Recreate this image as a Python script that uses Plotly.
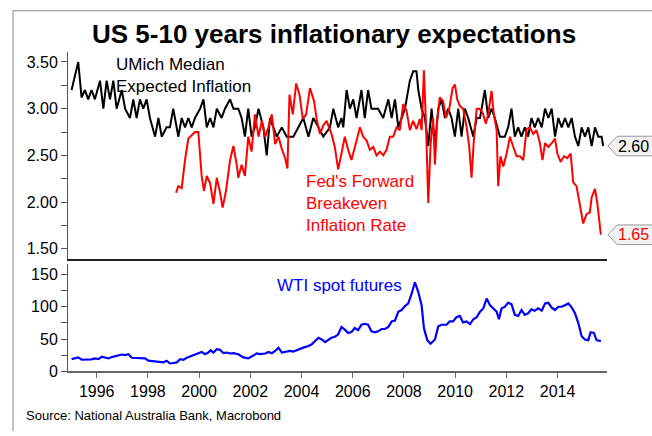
import plotly.graph_objects as go

# ---------------- data (decimal years) ----------------
umich_x = [1995.02, 1995.28, 1995.41, 1995.54, 1995.67, 1995.80, 1995.93, 1996.13, 1996.26, 1996.39,
           1996.52, 1996.65, 1996.78, 1996.98, 1997.11, 1997.30, 1997.43, 1997.56, 1997.69, 1997.82,
           1997.95, 1998.08, 1998.28, 1998.41, 1998.54, 1998.73, 1998.86, 1998.99, 1999.19, 1999.32,
           1999.45, 1999.58, 1999.71, 1999.84, 2000.04, 2000.17, 2000.30, 2000.43, 2000.56, 2000.69,
           2000.88, 2001.01, 2001.21, 2001.34, 2001.53, 2001.66, 2001.79, 2001.92, 2002.05, 2002.18,
           2002.32, 2002.51, 2002.64, 2002.77, 2002.90, 2003.03, 2003.23, 2003.42, 2003.68, 2003.88,
           2004.07, 2004.27, 2004.46, 2004.66, 2004.85, 2005.11, 2005.24, 2005.43, 2005.56, 2005.63,
           2005.76, 2005.89, 2006.02, 2006.15, 2006.34, 2006.47, 2006.60, 2006.73, 2006.86, 2006.99,
           2007.19, 2007.39, 2007.52, 2007.65, 2007.78, 2007.91, 2008.04, 2008.23, 2008.36, 2008.49,
           2008.56, 2008.69, 2008.82, 2008.95, 2009.08, 2009.21, 2009.34, 2009.47, 2009.60, 2009.73,
           2009.86, 2009.99, 2010.12, 2010.25, 2010.38, 2010.51, 2010.71, 2010.84, 2010.97, 2011.16,
           2011.29, 2011.42, 2011.55, 2011.75, 2011.94, 2012.07, 2012.20, 2012.33, 2012.46, 2012.59,
           2012.72, 2012.85, 2012.98, 2013.11, 2013.24, 2013.38, 2013.51, 2013.64, 2013.77, 2013.90,
           2014.03, 2014.16, 2014.29, 2014.42, 2014.55, 2014.68, 2014.81, 2014.94, 2015.07, 2015.20,
           2015.33, 2015.46, 2015.59, 2015.72, 2015.78]
umich_y = [3.20, 3.50, 3.12, 3.20, 3.10, 3.20, 3.10, 3.30, 3.00, 3.30,
           3.10, 3.30, 3.00, 3.20, 3.00, 2.90, 3.10, 2.90, 3.10, 3.00,
           3.10, 2.90, 2.70, 2.90, 2.70, 2.80, 2.80, 3.00, 2.70, 2.90,
           2.80, 2.90, 2.80, 2.90, 3.00, 3.10, 2.80, 2.90, 2.80, 3.00,
           2.90, 3.00, 3.10, 3.00, 3.00, 2.90, 2.70, 3.00, 2.70, 2.80,
           3.00, 2.80, 2.50, 2.90, 2.80, 2.70, 2.80, 2.70, 2.70, 2.80,
           2.90, 2.70, 2.90, 2.80, 2.70, 2.80, 3.00, 2.80, 2.90, 2.80,
           3.20, 3.00, 3.10, 2.90, 3.20, 2.90, 3.20, 3.00, 3.00, 3.00,
           2.90, 3.10, 2.90, 3.10, 2.80, 2.90, 3.00, 3.30, 3.40, 3.40,
           3.20, 3.00, 2.90, 2.60, 3.00, 2.60, 3.00, 3.10, 2.90, 3.00,
           2.90, 2.70, 3.00, 2.70, 3.00, 2.90, 2.70, 2.90, 2.90, 3.20,
           2.90, 3.00, 2.90, 2.70, 2.70, 2.80, 3.00, 2.70, 2.80, 2.70,
           2.80, 2.70, 2.90, 2.80, 2.90, 2.80, 3.00, 2.90, 3.00, 2.70,
           2.90, 2.80, 2.90, 2.80, 2.90, 2.70, 2.60, 2.80, 2.70, 2.80,
           2.60, 2.80, 2.70, 2.70, 2.60]

fed_x = [1999.10, 1999.19, 1999.32, 1999.45, 1999.58, 1999.71, 1999.84, 1999.97, 2000.10, 2000.19,
         2000.30, 2000.43, 2000.56, 2000.69, 2000.82, 2000.92, 2001.05, 2001.21, 2001.34, 2001.47,
         2001.53, 2001.66, 2001.79, 2001.92, 2002.05, 2002.18, 2002.32, 2002.45, 2002.58, 2002.71,
         2002.84, 2002.97, 2003.10, 2003.23, 2003.36, 2003.45, 2003.53, 2003.66, 2003.79, 2003.92,
         2004.05, 2004.18, 2004.33, 2004.49, 2004.59, 2004.72, 2004.85, 2004.98, 2005.17, 2005.30,
         2005.43, 2005.56, 2005.69, 2005.82, 2005.95, 2006.15, 2006.28, 2006.41, 2006.54, 2006.67,
         2006.80, 2006.93, 2007.06, 2007.19, 2007.32, 2007.45, 2007.58, 2007.71, 2007.84, 2007.97,
         2008.10, 2008.23, 2008.36, 2008.49, 2008.62, 2008.69, 2008.78, 2008.86, 2008.95, 2009.04,
         2009.14, 2009.21, 2009.30, 2009.40, 2009.53, 2009.64, 2009.77, 2009.90, 2009.99, 2010.08,
         2010.18, 2010.31, 2010.45, 2010.55, 2010.64, 2010.73, 2010.84, 2010.94, 2011.07, 2011.20,
         2011.29, 2011.42, 2011.51, 2011.62, 2011.68, 2011.77, 2011.88, 2012.01, 2012.14, 2012.27,
         2012.40, 2012.53, 2012.66, 2012.79, 2012.92, 2013.05, 2013.18, 2013.31, 2013.41, 2013.51,
         2013.64, 2013.77, 2013.90, 2013.99, 2014.12, 2014.25, 2014.38, 2014.51, 2014.61, 2014.74,
         2014.87, 2015.00, 2015.13, 2015.26, 2015.33, 2015.46, 2015.55, 2015.69]
fed_y = [2.10, 2.17, 2.15, 2.45, 2.68, 2.72, 2.75, 2.75, 2.28, 2.12,
         2.28, 2.20, 1.98, 2.26, 2.10, 1.94, 2.12, 2.45, 2.60, 2.40,
         2.26, 2.40, 2.28, 2.70, 2.54, 2.94, 2.70, 2.87, 2.70, 2.80,
         2.94, 2.62, 2.70, 2.57, 2.47, 2.36, 3.15, 2.94, 3.27, 3.15,
         2.89, 2.94, 3.22, 3.08, 2.89, 2.73, 2.82, 2.87, 2.73, 2.59,
         2.35, 2.52, 2.70, 2.56, 2.45, 2.66, 2.80, 2.70, 2.66, 2.56,
         2.59, 2.50, 2.54, 2.50, 2.56, 2.70, 2.70, 2.80, 2.77, 3.05,
         2.98, 2.77, 2.87, 2.78, 2.89, 2.77, 3.41, 2.84, 1.99, 2.62,
         2.90, 2.40, 2.87, 3.12, 3.08, 2.90, 3.00, 3.22, 3.26, 3.10,
         3.03, 3.00, 2.80, 2.59, 2.26, 2.66, 3.00, 3.00, 2.96, 2.84,
         2.94, 3.19, 2.94, 2.77, 2.17, 2.49, 2.38, 2.52, 2.70, 2.59,
         2.49, 2.49, 2.45, 2.78, 2.80, 2.73, 2.77, 2.63, 2.45, 2.63,
         2.59, 2.63, 2.68, 2.52, 2.43, 2.49, 2.47, 2.52, 2.21, 2.17,
         1.98, 1.77, 1.87, 1.89, 2.05, 2.14, 1.99, 1.65]

wti_x = [1995.02, 1995.15, 1995.28, 1995.41, 1995.61, 1995.80, 1995.93, 1996.07, 1996.20, 1996.33,
         1996.46, 1996.59, 1996.72, 1996.85, 1996.98, 1997.11, 1997.24, 1997.37, 1997.50, 1997.63,
         1997.76, 1997.89, 1998.02, 1998.21, 1998.41, 1998.60, 1998.73, 1998.86, 1998.99, 1999.13,
         1999.26, 1999.39, 1999.52, 1999.71, 1999.91, 2000.10, 2000.23, 2000.36, 2000.45, 2000.56,
         2000.69, 2000.82, 2000.95, 2001.08, 2001.21, 2001.34, 2001.53, 2001.73, 2001.92, 2002.12,
         2002.25, 2002.38, 2002.58, 2002.71, 2002.84, 2002.97, 2003.10, 2003.23, 2003.36, 2003.55,
         2003.68, 2003.88, 2004.07, 2004.27, 2004.40, 2004.53, 2004.66, 2004.79, 2004.92, 2005.17,
         2005.30, 2005.43, 2005.56, 2005.69, 2005.82, 2005.95, 2006.08, 2006.21, 2006.34, 2006.47,
         2006.60, 2006.73, 2006.86, 2006.99, 2007.13, 2007.26, 2007.39, 2007.52, 2007.65, 2007.78,
         2007.91, 2008.04, 2008.17, 2008.30, 2008.43, 2008.56, 2008.69, 2008.78, 2008.91, 2009.04,
         2009.21, 2009.34, 2009.47, 2009.66, 2009.79, 2009.92, 2010.05, 2010.18, 2010.31, 2010.45,
         2010.58, 2010.71, 2010.84, 2010.97, 2011.10, 2011.23, 2011.36, 2011.49, 2011.62, 2011.71,
         2011.81, 2011.94, 2012.07, 2012.20, 2012.33, 2012.46, 2012.59, 2012.72, 2012.85, 2012.98,
         2013.11, 2013.24, 2013.38, 2013.51, 2013.64, 2013.77, 2013.90, 2014.03, 2014.16, 2014.29,
         2014.42, 2014.55, 2014.68, 2014.81, 2014.94, 2015.07, 2015.20, 2015.29, 2015.42, 2015.52,
         2015.69]
wti_y = [18.8, 19.8, 21.4, 17.8, 17.8, 18.3, 19.8, 18.8, 22.4, 20.8,
         19.8, 21.9, 22.9, 23.9, 25.9, 24.9, 26.4, 20.8, 20.8, 20.3,
         20.8, 19.8, 16.3, 15.8, 14.7, 13.7, 16.3, 12.2, 12.7, 13.7,
         18.8, 17.8, 20.8, 23.9, 25.9, 30.0, 26.4, 29.0, 32.5, 29.0,
         34.1, 33.1, 28.0, 29.0, 27.5, 28.0, 26.4, 21.4, 19.8, 23.9,
         27.5, 26.4, 27.5, 30.0, 28.0, 31.5, 36.6, 29.0, 30.5, 31.5,
         30.5, 34.1, 36.6, 39.2, 41.7, 46.8, 51.9, 49.3, 45.3, 51.9,
         53.4, 57.0, 68.7, 64.6, 59.5, 61.0, 67.1, 63.6, 72.2, 73.7,
         72.2, 62.0, 60.5, 62.0, 65.6, 65.6, 68.7, 77.3, 78.8, 92.5,
         95.1, 101.2, 105.3, 120.5, 138.3, 123.0, 102.7, 67.1, 48.3, 42.7,
         49.3, 69.7, 72.2, 72.2, 77.3, 77.3, 83.9, 85.9, 75.8, 77.3,
         73.2, 80.8, 83.9, 92.5, 97.6, 112.9, 102.7, 97.6, 92.5, 80.8,
         97.6, 100.2, 106.3, 104.3, 87.5, 85.9, 95.1, 87.5, 90.0, 96.1,
         94.1, 97.6, 94.1, 105.3, 106.3, 98.7, 95.1, 100.2, 100.2, 102.7,
         105.3, 99.2, 90.0, 74.8, 54.4, 49.3, 48.3, 60.5, 59.5, 48.3,
         46.8]

top_ticks = [1.5, 2.0, 2.5, 3.0, 3.5]
bottom_ticks = [0, 50, 100, 150]
year_ticks = [1996, 1998, 2000, 2002, 2004, 2006, 2008, 2010, 2012, 2014]

# ---------------- figure ----------------
W, H = 652, 436
FONT = "Arial, Liberation Sans, sans-serif"

fig = go.Figure()
fig.add_trace(go.Scatter(x=umich_x, y=umich_y, mode="lines", line=dict(color="black", width=2),
                         xaxis="x", yaxis="y", showlegend=False, hoverinfo="skip"))
fig.add_trace(go.Scatter(x=fed_x, y=fed_y, mode="lines", line=dict(color="#ff0000", width=2),
                         xaxis="x", yaxis="y", showlegend=False, hoverinfo="skip"))
fig.add_trace(go.Scatter(x=wti_x, y=wti_y, mode="lines", line=dict(color="#0000ff", width=2.2),
                         xaxis="x2", yaxis="y2", showlegend=False, hoverinfo="skip"))

xdom = [68 / W, 607 / W]
xrange = [1994.88, 2015.93]

fig.update_layout(
    width=W, height=H,
    margin=dict(l=0, r=0, t=0, b=0),
    paper_bgcolor="white", plot_bgcolor="white",
    font=dict(family=FONT, size=16, color="black"),
    xaxis=dict(domain=xdom, range=xrange, anchor="y", showgrid=False, zeroline=False,
               showticklabels=False, ticks="", showline=True, linecolor="#222", linewidth=1.5),
    yaxis=dict(domain=[1 - 264 / H, 1 - 53 / H], range=[1.395, 3.608], anchor="x",
               tickvals=top_ticks, ticktext=[f"{v:.2f}" for v in top_ticks],
               showgrid=False, zeroline=False, showline=True, linecolor="#555", linewidth=1,
               ticks="outside", ticklen=6, tickcolor="#555",
               minor=dict(ticks="outside", dtick=0.25, tick0=1.5, ticklen=6, tickcolor="#555")),
    xaxis2=dict(domain=xdom, range=xrange, anchor="y2", showgrid=False, zeroline=False,
                tickvals=year_ticks, ticks="outside", ticklen=5, tickcolor="#666",
                showline=True, linecolor="#666", linewidth=1.5),
    yaxis2=dict(domain=[1 - 379 / H, 1 - 270 / H], range=[0, 166], anchor="x2",
                tickvals=bottom_ticks, showgrid=False, zeroline=False,
                showline=True, linecolor="#555", linewidth=1,
                ticks="outside", ticklen=6, tickcolor="#555",
                minor=dict(ticks="outside", dtick=25, tick0=0, ticklen=6, tickcolor="#555")),
)

# frame lines (top and left)
fig.add_shape(type="line", xref="paper", yref="paper", x0=13 / W, x1=1.01, y0=1 - 11 / H, y1=1 - 11 / H,
              line=dict(color="#888", width=1))
fig.add_shape(type="line", xref="paper", yref="paper", x0=13 / W, x1=13 / W, y0=1 - 11 / H, y1=-0.01,
              line=dict(color="#888", width=1))

# title
fig.add_annotation(text="<b>US 5-10 years inflationary expectations</b>", xref="paper", yref="paper",
                   x=333.5 / W, y=1 - 35 / H, xanchor="center", yanchor="middle", showarrow=False,
                   font=dict(size=26, color="black", family=FONT))

# series labels
fig.add_annotation(text="UMich Median<br>Expected Inflation", xref="paper", yref="paper",
                   x=114 / W, y=1 - 77.5 / H, xanchor="left", yanchor="middle", align="left",
                   showarrow=False, font=dict(size=17, color="black"))
fig.add_annotation(text="Fed's Forward<br>Breakeven<br>Inflation Rate", xref="paper", yref="paper",
                   x=304 / W, y=1 - 208 / H, xanchor="left", yanchor="middle", align="left",
                   showarrow=False, font=dict(size=17, color="#ff0000"))
fig.add_annotation(text="WTI spot futures", xref="paper", yref="paper",
                   x=275 / W, y=1 - 292 / H, xanchor="left", yanchor="middle", align="left",
                   showarrow=False, font=dict(size=17, color="#0000ff"))

# last-value tags
hh = 0.105
for val, col in [(umich_y[-1], "black"), (fed_y[-1], "#ff0000")]:
    tip, left, right = 608 / W, 617 / W, 1.02
    fig.add_shape(type="path", xref="paper", yref="y",
                  path=f"M {tip},{val} L {left},{val + hh} L {right},{val + hh} L {right},{val - hh} L {left},{val - hh} Z",
                  fillcolor="#f2f2f2", line=dict(color="#999", width=1))
    fig.add_annotation(text=f"{val:.2f}", xref="paper", yref="y", x=651 / W, y=val,
                       xanchor="right", yanchor="middle", showarrow=False,
                       font=dict(size=16, color=col))

# source
fig.add_annotation(text="Source: National Australia Bank, Macrobond", xref="paper", yref="paper",
                   x=24 / W, y=1 - 424 / H, xanchor="left", yanchor="middle", showarrow=False,
                   font=dict(size=13, color="black"))

fig.write_html("out.html", config={"displayModeBar": False},
               post_script="document.body.style.margin='0';document.body.style.overflow='hidden';")
